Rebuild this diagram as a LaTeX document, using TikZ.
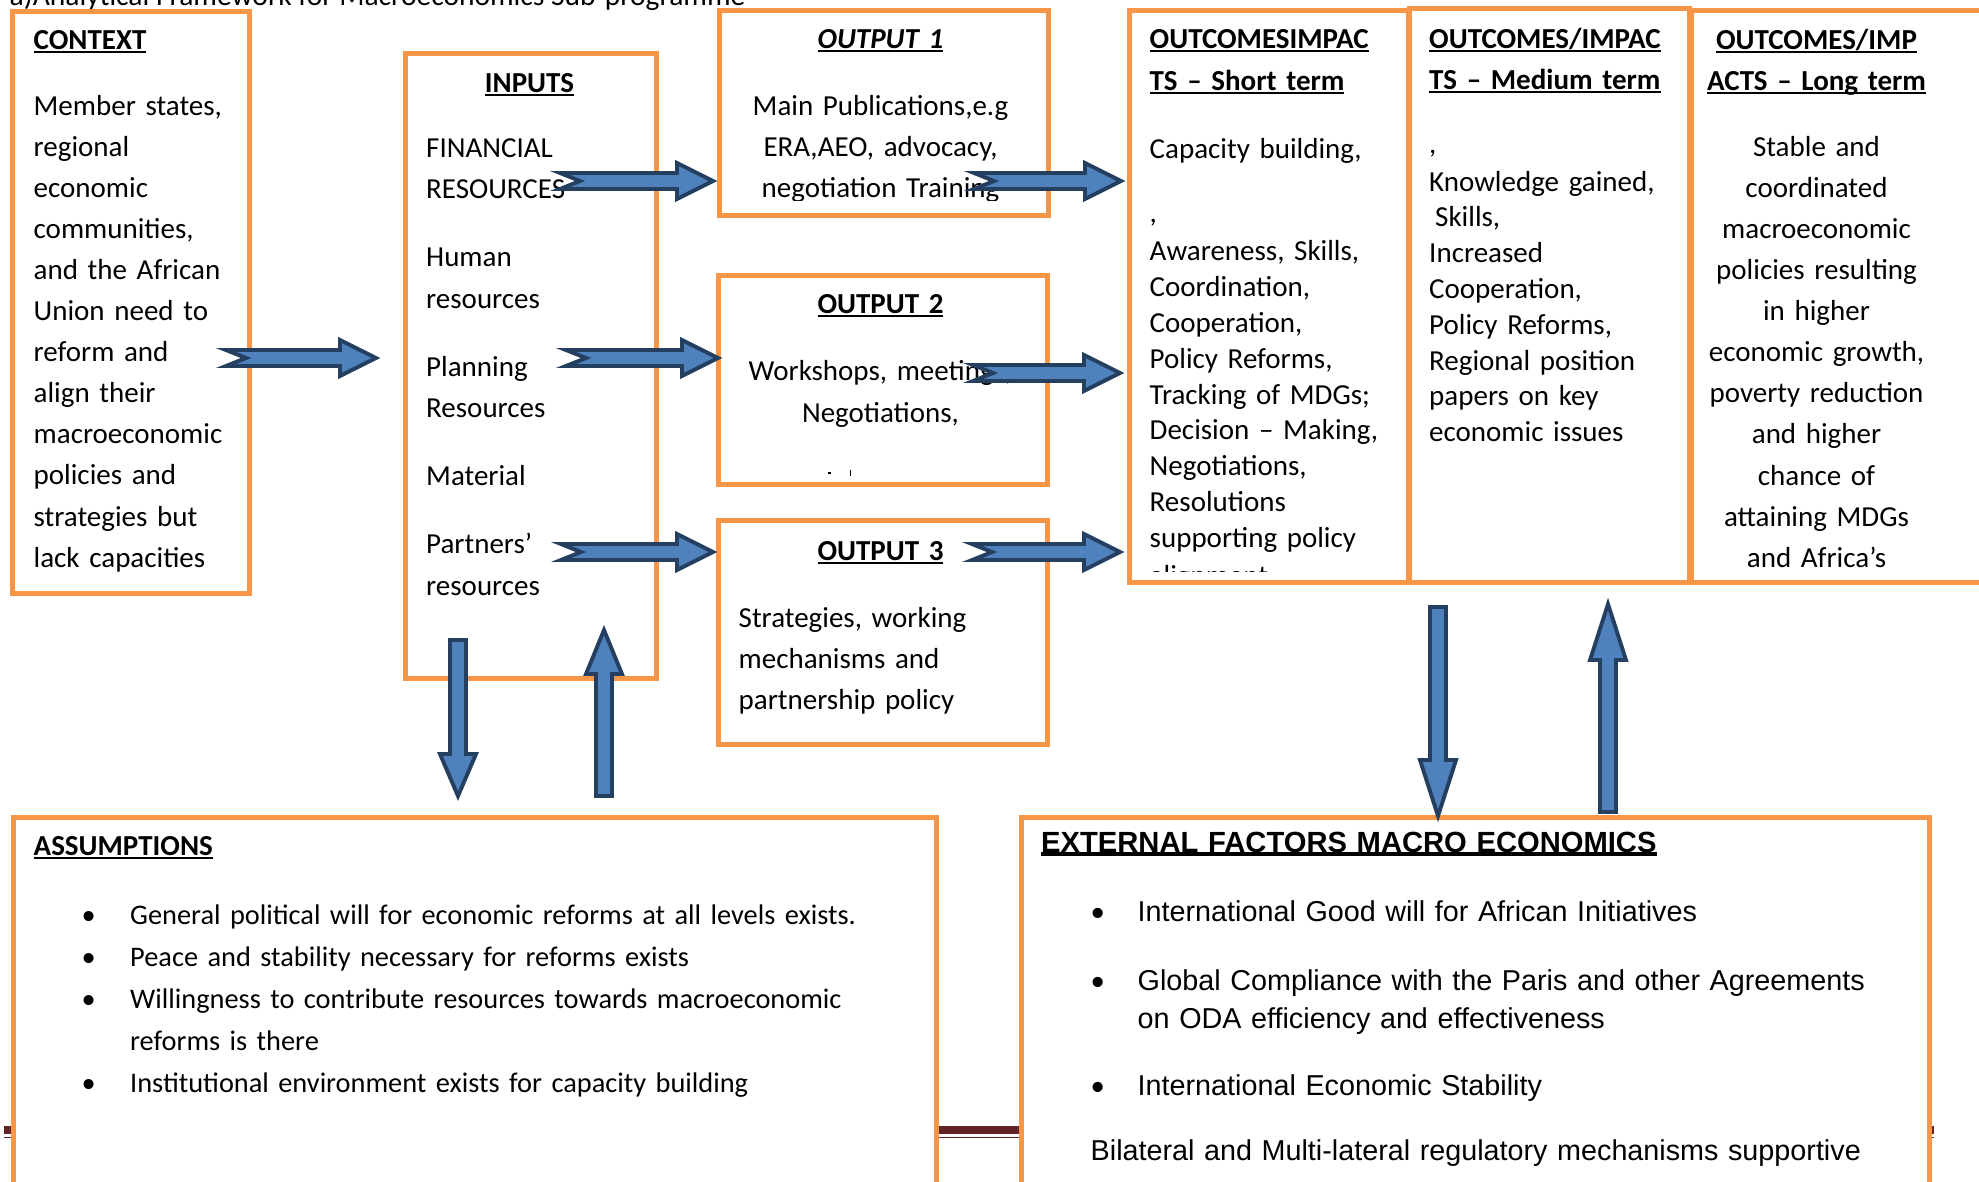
\documentclass[tikz,border=0pt]{standalone}
\usepackage{fontspec}
\setmainfont{Carlito}
\newfontfamily\arialfont{Liberation Sans}
\usetikzlibrary{calc}

\definecolor{boxorange}{HTML}{F79646}
\definecolor{arrowfill}{HTML}{4F81BD}
\definecolor{arrowline}{HTML}{243F60}
\definecolor{footerred}{HTML}{622423}

\newcommand{\undl}[2][0.57pt]{\leavevmode\setbox0=\hbox{#2}\rlap{\rule[-1pt]{\wd0}{#1}}\box0}
\newcommand{\bul}[1]{\makebox[#1][l]{\rmfamily\textbullet}}

\newcommand{\notcharrow}[2]{%
  \draw[blockarrow] ($(#1)+(0,-8)$) -- ($(#2)+(-36,-8)$) -- ($(#2)+(-36,-18)$) -- (#2)
    -- ($(#2)+(-36,18)$) -- ($(#2)+(-36,8)$) -- ($(#1)+(0,8)$) -- ($(#1)+(20,0)$) -- cycle;}
\newcommand{\vertarrow}[3]{%
  \draw[blockarrow] ($(#1)+(-8,0)$) -- ($(#2)+(-8,#3)$) -- ($(#2)+(-18,#3)$) -- (#2)
    -- ($(#2)+(18,#3)$) -- ($(#2)+(8,#3)$) -- ($(#1)+(8,0)$) -- cycle;}

\tikzset{
  frame/.style={draw=boxorange, line width=1.42pt, fill=white, inner sep=0pt, anchor=north west},
  blockarrow/.style={draw=arrowline, fill=arrowfill, line width=1.1pt},
  txt/.style={inner sep=0pt, anchor=base west, align=left, text width=60mm},
  ctxt/.style={inner sep=0pt, anchor=base, align=center, text width=40mm},
  lines/.style={font=\fontsize{8.25pt}{#1}\selectfont}
}

\begin{document}
\begin{tikzpicture}[x=0.1mm,y=-0.1mm]
\useasboundingbox (0,0) rectangle (1979,1181);
\clip (0,0) rectangle (1979,1181);

\node[inner sep=0pt, anchor=base west, font=\fontsize{8.4pt}{10pt}\selectfont] (title) at (9,5) {a)Analytical Framework for Macroeconomics Sub-programme};

\fill[footerred] (4,1126) rectangle (1934,1134);
\fill[footerred] (4,1136.5) rectangle (1934,1138);

\node[frame, minimum width=23.7mm, minimum height=58.2mm] (ctx) at (10,9) {};
\node[frame, minimum width=25.1mm, minimum height=62.5mm] (inp) at (403,51) {};
\node[frame, minimum width=32.9mm, minimum height=20.5mm] (out1) at (717,8) {};
\node[frame, minimum width=32.9mm, minimum height=20.9mm] (out2) at (716,273) {};
\node[frame, minimum width=32.9mm, minimum height=22.4mm] (out3) at (716,518) {};
\node[frame, minimum width=27.9mm, minimum height=57.2mm] (shortt) at (1127,8) {};
\node[frame, minimum width=28.0mm, minimum height=57.4mm] (medt) at (1407,6) {};
\node[frame, minimum width=32.0mm, minimum height=57.2mm] (longt) at (1689,8) {};
\node[frame, minimum width=92.3mm, minimum height=40mm] (assum) at (11,815) {};
\node[frame, minimum width=90.8mm, minimum height=40mm] (ext) at (1019,815) {};

\node[txt, lines=4.11mm] (ctxtext) at (33,49.3) {\undl{\textbf{CONTEXT}}\\[2.46mm] Member states,\\ regional\\ economic\\ communities,\\ and the African\\ Union need to\\ reform and\\ align their\\ macroeconomic\\ policies and\\ strategies but\\ lack capacities};

\node[ctxt, lines=4.15mm] (inphead) at (529.5,92) {\undl{\textbf{INPUTS}}};
\node[txt, lines=4.15mm] (inptext) at (425.5,157) {FINANCIAL\\ RESOURCES\\[2.65mm] Human\\ resources\\[2.65mm] Planning\\ Resources\\[2.65mm] Material\\[2.65mm] Partners'\\ resources};

\begin{scope}
\clip (719,10) rectangle (1044,200);
\node[ctxt, lines=4.1mm] (out1text) at (880.5,48) {\undl{\textbf{\textit{OUTPUT 1}}}\\[2.6mm] Main Publications,e.g\\ ERA,AEO, advocacy,\\ negotiation Training};
\end{scope}

\node[ctxt, lines=4.2mm] (out2text) at (880.5,313) {\undl{\textbf{OUTPUT 2}}\\[2.5mm] Workshops, meetings,\\ Negotiations,};
\fill (828,472) rectangle (831,474);
\fill (849.5,470) rectangle (851,476);

\node[ctxt, lines=4.1mm] (out3head) at (880.5,560) {\undl{\textbf{OUTPUT 3}}};
\node[txt, lines=4.1mm] (out3text) at (738,627) {Strategies, working\\ mechanisms and\\ partnership policy};

\begin{scope}
\clip (1130,10) rectangle (1403,571);
\node[txt, lines=3.58mm] (shorttext) at (1149,48) {\undl{\textbf{OUTCOMESIMPAC}}\\[0.62mm] \undl{\textbf{TS -- Short term}}\\[3.22mm] Capacity building,\\[2.82mm] ,\\[0.3mm] Awareness, Skills,\\ Coordination,\\ Cooperation,\\ Policy Reforms,\\ Tracking of MDGs;\\ Decision -- Making,\\ Negotiations,\\ Resolutions\\ supporting policy\\[0.2mm] alignment};
\end{scope}

\node[txt, lines=3.58mm] (medtext) at (1428.5,48) {\undl{\textbf{OUTCOMES/IMPAC}}\\[0.52mm] \undl{\textbf{TS -- Medium term}}\\[2.82mm] ,\\[0.22mm] Knowledge gained,\\ \hspace*{0.6mm}Skills,\\ Increased\\ Cooperation,\\ Policy Reforms,\\ Regional position\\ papers on key\\ economic issues};

\begin{scope}
\clip (1692,10) rectangle (1979,568);
\node[ctxt, lines=4.11mm] (longtext) at (1816.5,49) {\undl{\textbf{OUTCOMES/IMP}}\\ \undl{\textbf{ACTS -- Long term}}\\[2.5mm] Stable and\\ coordinated\\ macroeconomic\\ policies resulting\\ in higher\\ economic growth,\\ poverty reduction\\ and higher\\ chance of\\ attaining MDGs\\ and Africa's};
\end{scope}

\node[txt, lines=4.22mm] (assumhead) at (33,855) {\undl{\textbf{ASSUMPTIONS}}};
\node[txt, text width=90mm, font=\fontsize{8.07pt}{4.22mm}\selectfont] (assumtext) at (81,924) {\bul{4.85mm}General political will for economic reforms at all levels exists.\\ \bul{4.85mm}Peace and stability necessary for reforms exists\\ \bul{4.85mm}Willingness to contribute resources towards macroeconomic\\ \hspace*{4.85mm}reforms is there\\ \bul{4.85mm}Institutional environment exists for capacity building};

\node[txt, text width=90mm, font=\arialfont\bfseries\fontsize{8.3pt}{10pt}\selectfont] (exthead) at (1040.5,852.7) {\undl[1.1pt]{EXTERNAL FACTORS MACRO ECONOMICS}};
\node[txt, text width=90mm, font=\arialfont\fontsize{8.18pt}{3.73mm}\selectfont] (exttext) at (1090,921.7) {\bul{4.7mm}International Good will for African Initiatives\\[3.17mm] \bul{4.7mm}Global Compliance with the Paris and other Agreements\\ \hspace*{4.7mm}on ODA efficiency and effectiveness\\[2.97mm] \bul{4.7mm}International Economic Stability\\[2.8mm] Bilateral and Multi-lateral regulatory mechanisms supportive};

\coordinate (ctxR) at (226,358);   \coordinate (inpL) at (376,358);
\coordinate (inpR1) at (560,181);  \coordinate (out1L) at (713,181);
\coordinate (inpR2) at (566,358);  \coordinate (out2L) at (718,358);
\coordinate (inpR3) at (561,552);  \coordinate (out3L) at (713,552);
\coordinate (out1R) at (974,181);  \coordinate (shortL1) at (1121,181);
\coordinate (out2R) at (973,373);  \coordinate (shortL2) at (1120,373);
\coordinate (out3R) at (972,552);  \coordinate (shortL3) at (1120,552);
\coordinate (inpB1) at (458,640);  \coordinate (assumT1) at (458,796);
\coordinate (assumT2) at (604,796); \coordinate (inpB2) at (604,630);
\coordinate (outcB1) at (1438,607); \coordinate (extT1) at (1438,816);
\coordinate (extT2) at (1608,812);  \coordinate (outcB2) at (1608,604);

\notcharrow{ctxR}{inpL}
\notcharrow{inpR1}{out1L}
\notcharrow{inpR2}{out2L}
\notcharrow{inpR3}{out3L}
\notcharrow{out1R}{shortL1}
\notcharrow{out2R}{shortL2}
\notcharrow{out3R}{shortL3}
\vertarrow{inpB1}{assumT1}{-42}
\vertarrow{assumT2}{inpB2}{44}
\vertarrow{outcB1}{extT1}{-56}
\vertarrow{extT2}{outcB2}{56}
\end{tikzpicture}
\end{document}
